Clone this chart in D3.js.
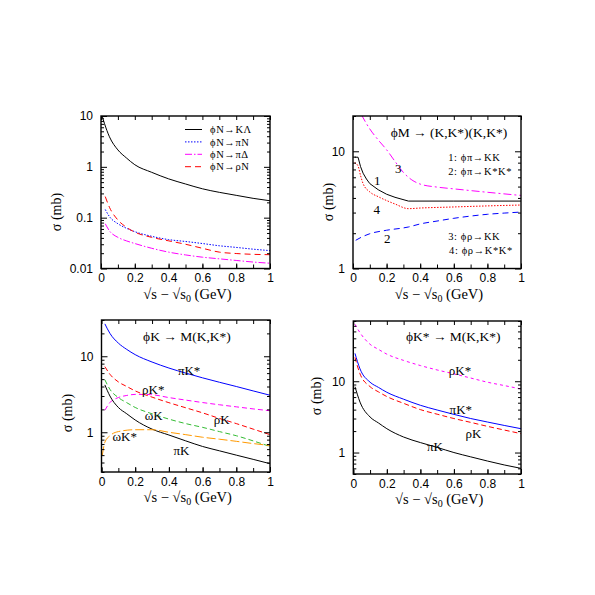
<!DOCTYPE html>
<html>
<head>
<meta charset="utf-8">
<script src="https://cdn.jsdelivr.net/npm/d3@7"></script>
<style>
  body { margin: 0; background: #fff; }
  svg { display: block; }
  .tick text { font-family: "Liberation Sans", Arial, sans-serif; font-size: 12px; fill: #000; }
  .lbl { font-family: "Liberation Serif", "Times New Roman", serif; fill: #000; }
</style>
</head>
<body>
<svg id="chart" width="595" height="595"></svg>
<script>
// ---- data: [sqrt(s)-sqrt(s0) in GeV, sigma in mb] ----
const xTicks = [0, 0.2, 0.4, 0.6, 0.8, 1];

// panel 1: phi N -> ...
const yTicks1 = [0.01, 0.1, 1, 10];
const phiN_KLambda = [[0.005,10.5],[0.02,7.2],[0.05,3.9],[0.1,2.15],[0.15,1.5],[0.2,1.1],[0.3,0.78],[0.4,0.58],[0.5,0.46],[0.6,0.37],[0.7,0.315],[0.8,0.275],[0.9,0.24],[1.0,0.215]];
const phiN_piN = [[0.025,0.145],[0.05,0.105],[0.1,0.076],[0.15,0.062],[0.2,0.053],[0.3,0.043],[0.4,0.037],[0.5,0.034],[0.6,0.031],[0.7,0.028],[0.8,0.026],[0.9,0.024],[1.0,0.0225]];
const phiN_piDelta = [[0.025,0.076],[0.05,0.055],[0.1,0.041],[0.15,0.035],[0.2,0.031],[0.3,0.025],[0.4,0.021],[0.5,0.0185],[0.6,0.0167],[0.7,0.0155],[0.8,0.0144],[0.9,0.0134],[1.0,0.0127]];
const phiN_rhoN = [[0.025,0.26],[0.05,0.16],[0.1,0.09],[0.15,0.065],[0.2,0.052],[0.3,0.041],[0.4,0.035],[0.5,0.03],[0.6,0.025],[0.7,0.021],[0.8,0.0197],[0.9,0.019],[1.0,0.0187]];

// panel 2: phi M -> (K,K*)(K,K*)
const yTicks2 = [1, 10];
const phiPi_KK = [[0.01,8.9],[0.03,8.9],[0.045,7.4],[0.06,6.5],[0.08,5.8],[0.1,5.3],[0.15,4.7],[0.2,4.3],[0.25,4.05],[0.33,3.76],[0.6,3.76],[1.0,3.76]];
const phiPi_KsKs = [[0.016,1.74],[0.05,1.85],[0.1,1.98],[0.2,2.12],[0.33,2.26],[0.4,2.4],[0.5,2.54],[0.6,2.68],[0.7,2.8],[0.8,2.9],[0.9,2.97],[1.0,3.03]];
const phiRho_KK = [[0.05,20.5],[0.1,15.5],[0.15,12.5],[0.2,10.3],[0.25,8.2],[0.3,6.6],[0.35,5.7],[0.4,5.25],[0.5,4.95],[0.6,4.78],[0.8,4.47],[1.0,4.2]];
const phiRho_KsKs = [[0.01,8.0],[0.03,7.5],[0.045,6.2],[0.06,5.3],[0.1,4.5],[0.15,4.1],[0.2,3.8],[0.25,3.55],[0.33,3.24],[0.4,3.28],[0.6,3.35],[0.8,3.42],[1.0,3.48]];

// panel 3: phi K -> M(K,K*)
const yTicks3 = [1, 10];
const phiK_piKs = [[0.02,26.7],[0.05,20],[0.1,14.9],[0.15,12.3],[0.2,10.5],[0.3,8.4],[0.4,7.0],[0.5,6.0],[0.6,5.2],[0.7,4.55],[0.8,4.0],[0.9,3.5],[1.0,3.07]];
const phiK_rhoK = [[0.02,7.3],[0.05,5.8],[0.1,4.6],[0.15,4.0],[0.2,3.5],[0.3,2.9],[0.4,2.45],[0.5,2.1],[0.6,1.8],[0.7,1.52],[0.8,1.3],[0.9,1.1],[1.0,0.93]];
const phiK_rhoKs = [[0.02,1.95],[0.05,2.46],[0.1,2.86],[0.15,3.05],[0.2,3.15],[0.29,3.13],[0.4,2.86],[0.5,2.65],[0.6,2.46],[0.7,2.3],[0.8,2.16],[0.9,2.03],[1.0,1.92]];
const phiK_omegaK = [[0.02,4.9],[0.05,3.67],[0.1,2.86],[0.15,2.45],[0.2,2.12],[0.3,1.75],[0.4,1.49],[0.5,1.3],[0.6,1.16],[0.7,1.02],[0.8,0.9],[0.9,0.77],[1.0,0.65]];
const phiK_piK = [[0.02,4.2],[0.05,3.0],[0.1,2.12],[0.15,1.75],[0.2,1.45],[0.3,1.1],[0.4,0.92],[0.5,0.77],[0.6,0.65],[0.7,0.57],[0.8,0.5],[0.9,0.44],[1.0,0.386]];
const phiK_omegaKs = [[0.005,0.5],[0.02,0.74],[0.05,0.9],[0.1,1.02],[0.2,1.08],[0.3,1.08],[0.4,1.0],[0.5,0.93],[0.6,0.86],[0.7,0.81],[0.8,0.76],[0.9,0.71],[1.0,0.67]];

// panel 4: phi K* -> M(K,K*)
const yTicks4 = [1, 10];
const phiKs_rhoKs = [[0.01,63],[0.04,48],[0.1,33],[0.15,28],[0.2,24],[0.3,19.6],[0.4,16.6],[0.5,14.4],[0.6,12.7],[0.7,11.1],[0.8,9.7],[0.9,8.7],[1.0,7.8]];
const phiKs_piKs = [[0.01,24.6],[0.04,14.9],[0.1,9.7],[0.15,8.2],[0.2,7.0],[0.3,5.6],[0.4,4.6],[0.5,3.95],[0.6,3.43],[0.7,3.0],[0.8,2.68],[0.9,2.4],[1.0,2.16]];
const phiKs_rhoK = [[0.01,21.6],[0.04,12.7],[0.1,8.4],[0.15,7.1],[0.2,6.1],[0.3,4.9],[0.4,4.0],[0.5,3.45],[0.6,3.0],[0.7,2.65],[0.8,2.33],[0.9,2.07],[1.0,1.84]];
const phiKs_piK = [[0.01,8.4],[0.04,5.1],[0.1,3.15],[0.15,2.6],[0.2,2.16],[0.3,1.65],[0.4,1.38],[0.5,1.18],[0.6,1.0],[0.7,0.87],[0.8,0.76],[0.9,0.67],[1.0,0.6]];

const PHI = "\u03D5";
const svg = d3.select("#chart");
let clipId = 0;

function drawPanel(p) {
    const w = p.box.right - p.box.left, h = p.box.bottom - p.box.top;
    const g = svg.append("g").attr("transform", "translate(" + p.box.left + "," + p.box.top + ")");
    const x = d3.scaleLinear().domain([0, 1]).range([0, w]);
    const y = d3.scaleLog().domain(p.yDomain).range([h, 0]);

    const id = "clip" + (clipId++);
    g.append("clipPath").attr("id", id).append("rect").attr("width", w).attr("height", h);

    const line = d3.line()
        .x(function (d) { return x(d[0]); })
        .y(function (d) { return y(d[1]); });

    const curves = g.append("g").attr("clip-path", "url(#" + id + ")");
    p.series.forEach(function (s) {
        curves.append("path")
            .attr("fill", "none")
            .attr("stroke", s.color)
            .attr("stroke-width", 1)
            .attr("stroke-dasharray", s.dash || null)
            .attr("d", line.curve(s.linear ? d3.curveLinear : d3.curveMonotoneX)(s.data));
    });

    // ticks, all pointing inwards
    const yMinor = y.ticks().filter(function (v) { return p.yTicks.indexOf(v) < 0; });
    const xMinor = x.ticks(10);
    const fmtY = function (d) { return String(d); };
    const fmtX = function (d) { return String(+d.toFixed(1)); };

    const addAxis = function (axis, tr) {
        const a = g.append("g").attr("transform", tr).call(axis);
        a.select(".domain").remove();
        a.selectAll(".tick line").attr("stroke", "#000").attr("stroke-width", 1);
        return a;
    };
    addAxis(d3.axisLeft(y).tickValues(p.yTicks).tickSize(-6).tickPadding(8).tickFormat(fmtY), "");
    addAxis(d3.axisLeft(y).tickValues(yMinor).tickSize(-3).tickFormat(""), "");
    addAxis(d3.axisRight(y).tickValues(p.yTicks).tickSize(-6).tickFormat(""), "translate(" + w + ",0)");
    addAxis(d3.axisRight(y).tickValues(yMinor).tickSize(-3).tickFormat(""), "translate(" + w + ",0)");
    addAxis(d3.axisBottom(x).tickValues(xTicks).tickSize(-5).tickPadding(5).tickFormat(fmtX), "translate(0," + h + ")");
    addAxis(d3.axisBottom(x).tickValues(xMinor).tickSize(-4).tickFormat(""), "translate(0," + h + ")");
    addAxis(d3.axisTop(x).tickValues(xMinor).tickSize(-4).tickFormat(""), "");

    g.append("rect").attr("width", w).attr("height", h)
        .attr("fill", "none").attr("stroke", "#000").attr("stroke-width", 1.4);

    // axis titles
    const xt = g.append("text").attr("class", "lbl")
        .attr("x", w / 2 + 2).attr("y", h + 30)
        .attr("text-anchor", "middle").style("font-size", "14.5px");
    xt.append("tspan").text("\u221As \u2212 \u221As");
    xt.append("tspan").attr("dy", 3).style("font-size", "10px").text("0");
    xt.append("tspan").attr("dy", -3).text(" (GeV)");

    g.append("text").attr("class", "lbl")
        .attr("transform", "translate(" + p.yTitle[0] + "," + p.yTitle[1] + ") rotate(-90)")
        .attr("text-anchor", "middle").style("font-size", "14px")
        .text("\u03C3 (mb)");

    // annotations in data coordinates
    (p.notes || []).forEach(function (n) {
        g.append("text").attr("class", "lbl")
            .attr("x", x(n.x)).attr("y", y(n.y)).attr("dy", "0.35em")
            .attr("text-anchor", n.anchor || "middle")
            .style("font-size", (n.size || 13) + "px")
            .style("letter-spacing", n.spacing ? n.spacing + "px" : null)
            .text(n.text);
    });

    // legend (panel 1)
    if (p.legend) {
        p.legend.forEach(function (l, i) {
            const ly = 13.5 + i * 12.4;
            g.append("line").attr("x1", 84).attr("x2", 101).attr("y1", ly).attr("y2", ly)
                .attr("stroke", l.color).attr("stroke-dasharray", l.dash || null);
            g.append("text").attr("class", "lbl").attr("x", 109).attr("y", ly).attr("dy", "0.35em")
                .style("font-size", "10.5px").style("letter-spacing", "0.6px").text(l.text);
        });
    }
}

const s1 = [
    { data: phiN_KLambda, color: "#000", text: PHI + "N\u2192K\u039B" },
    { data: phiN_piN, color: "#0000ff", dash: "1.5,1.5", text: PHI + "N\u2192\u03C0N" },
    { data: phiN_piDelta, color: "#ff00ff", dash: "7,2,1.5,2", text: PHI + "N\u2192\u03C0\u0394" },
    { data: phiN_rhoN, color: "#ff0000", dash: "6,4", text: PHI + "N\u2192\u03C1N" }
];
drawPanel({
    box: { left: 101, right: 270, top: 116, bottom: 268.5 },
    yDomain: [0.01, 10], yTicks: yTicks1, yTitle: [-40, 96],
    series: s1, legend: s1
});

drawPanel({
    box: { left: 353, right: 521, top: 116, bottom: 268.5 },
    yDomain: [1, 20], yTicks: yTicks2, yTitle: [-20, 86],
    series: [
        { data: phiPi_KK, color: "#000", linear: true },
        { data: phiPi_KsKs, color: "#0000ff", dash: "6,4" },
        { data: phiRho_KK, color: "#ff00ff", dash: "8,3,2,3" },
        { data: phiRho_KsKs, color: "#ff0000", dash: "1.5,1.5" }
    ],
    notes: [
        { x: 0.571, y: 14.6, text: PHI + "M \u2192 (K,K*)(K,K*)", size: 13.5 },
        { x: 0.567, y: 8.8, text: "1: " + PHI + "\u03C0\u2192KK", anchor: "start", size: 10.5, spacing: 0.6 },
        { x: 0.567, y: 6.7, text: "2: " + PHI + "\u03C0\u2192K*K*", anchor: "start", size: 10.5, spacing: 0.6 },
        { x: 0.567, y: 1.88, text: "3: " + PHI + "\u03C1\u2192KK", anchor: "start", size: 10.5, spacing: 0.6 },
        { x: 0.572, y: 1.44, text: "4: " + PHI + "\u03C1\u2192K*K*", anchor: "start", size: 10.5, spacing: 0.6 },
        { x: 0.27, y: 7.12, text: "3", size: 13 },
        { x: 0.145, y: 5.66, text: "1", size: 13 },
        { x: 0.141, y: 3.18, text: "4", size: 13 },
        { x: 0.204, y: 1.82, text: "2", size: 13 }
    ]
});

drawPanel({
    box: { left: 101.5, right: 270, top: 320, bottom: 472 },
    yDomain: [0.3, 30], yTicks: yTicks3, yTitle: [-30, 93],
    series: [
        { data: phiK_piKs, color: "#0000ff" },
        { data: phiK_rhoK, color: "#ff0000", dash: "5,3" },
        { data: phiK_rhoKs, color: "#ff00ff", dash: "5,3" },
        { data: phiK_omegaK, color: "#33bb33", dash: "5,3" },
        { data: phiK_piK, color: "#000" },
        { data: phiK_omegaKs, color: "#ff9900", dash: "9,3" }
    ],
    notes: [
        { x: 0.507, y: 18.6, text: PHI + "K \u2192 M(K,K*)", size: 13.5 },
        { x: 0.52, y: 6.5, text: "\u03C0K*" },
        { x: 0.307, y: 3.67, text: "\u03C1K*" },
        { x: 0.31, y: 1.65, text: "\u03C9K" },
        { x: 0.713, y: 1.49, text: "\u03C1K" },
        { x: 0.138, y: 0.89, text: "\u03C9K*" },
        { x: 0.475, y: 0.575, text: "\u03C0K" }
    ]
});

drawPanel({
    box: { left: 353.3, right: 521, top: 321, bottom: 474 },
    yDomain: [0.5, 70], yTicks: yTicks4, yTitle: [-32, 75],
    series: [
        { data: phiKs_rhoKs, color: "#ff00ff", dash: "3,3" },
        { data: phiKs_piKs, color: "#0000ff" },
        { data: phiKs_rhoK, color: "#ff0000", dash: "5,3" },
        { data: phiKs_piK, color: "#000" }
    ],
    notes: [
        { x: 0.596, y: 42.1, text: PHI + "K* \u2192 M(K,K*)", size: 13.5 },
        { x: 0.636, y: 14.1, text: "\u03C1K*" },
        { x: 0.641, y: 3.98, text: "\u03C0K*" },
        { x: 0.716, y: 1.88, text: "\u03C1K" },
        { x: 0.487, y: 1.22, text: "\u03C0K" }
    ]
});
</script>
</body>
</html>
